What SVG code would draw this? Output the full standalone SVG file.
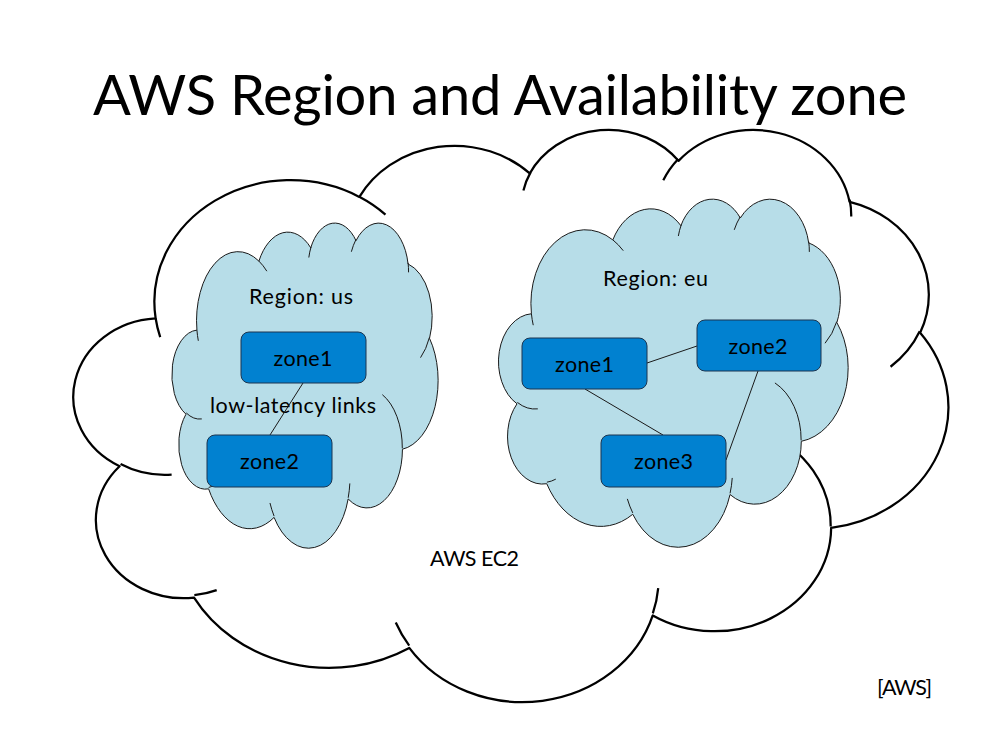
<svg xmlns="http://www.w3.org/2000/svg" xmlns:xlink="http://www.w3.org/1999/xlink" width="999" height="749" viewBox="0 0 999 749">
<style>
  text { font-family: "Lato", "Carlito", "Liberation Sans", sans-serif; fill: #000; }
  .title { font-size: 56px; }
  .lbl { font-size: 21.5px; }
  .mid { text-anchor: middle; }
  .big { fill: #ffffff; stroke: #000000; stroke-width: 2.25; }
  .reg { fill: #b7dde8; stroke: #1a1a1a; stroke-width: 1; }
  .zone { fill: #0181d0; stroke: #1c3550; stroke-width: 1; }
  .link { stroke: #1a1a1a; stroke-width: 1; fill: none; }
  .cl { vector-effect: non-scaling-stroke; stroke-linejoin: round; }
</style>
<defs>
  <g id="cloud">
    <path class="cl" d="M3900,14370 A6753,9190 0 0 1 14005,5202 A5333,7267 0 0 1 22456,3432 A4365,5945 0 0 1 29833,2481 A4857,6595 0 0 1 38318,5576 A5333,7273 0 0 1 41818,15460 A6775,9220 0 0 1 37404,30203 A5785,7867 0 0 1 28556,36813 A6752,9215 0 0 1 16480,39264 A7720,10543 0 0 1 5805,35470 A4360,5918 0 0 1 2113,25548 A4345,5945 0 0 1 3900,14370 Z"/>
    <path class="cl" fill="none" d="M4693,26177 A4345,5945 0 0 1 2160,25380 M6928,34899 A4360,5918 0 0 1 5820,35281 M16478,39090 A6752,9215 0 0 1 15810,37350 M28827,34751 A6752,9215 0 0 1 28560,36660 M34129,22954 A5785,7867 0 0 1 37381,30090 M41798,15354 A5333,7273 0 0 1 40350,18030 M38324,5426 A4857,6595 0 0 1 38400,6690 M29078,3952 A4857,6595 0 0 1 29820,2341 M22141,4720 A4365,5945 0 0 1 22500,3330 M14000,5192 A6753,9190 0 0 1 15300,6540 M4127,15789 A6753,9190 0 0 1 3900,14370"/>
  </g>
</defs>

<text id="title" class="title mid" x="500" y="115" textLength="814">AWS Region and Availability zone</text>

<g id="ec2">
  <use xlink:href="#cloud" href="#cloud" class="big" transform="translate(77 128) scale(0.020162 0.013241)"/>
  <text class="lbl" x="430" y="566" textLength="89">AWS EC2</text>
</g>

<g id="region-us">
  <use xlink:href="#cloud" href="#cloud" class="reg" transform="translate(173 222) scale(0.0061343 0.0075231)"/>
  <text class="lbl" x="249" y="304" textLength="104">Region: us</text>
  <text class="lbl" x="210" y="413" textLength="166">low-latency links</text>
</g>

<g id="region-eu">
  <use xlink:href="#cloud" href="#cloud" class="reg" transform="translate(500 198) scale(0.0080556 0.0080556)"/>
  <text class="lbl" x="603" y="286" textLength="105">Region: eu</text>
</g>

<g id="connectors">
  <line class="link" x1="303" y1="383" x2="270" y2="435"/>
  <line class="link" x1="647" y1="363" x2="697" y2="346"/>
  <line class="link" x1="585" y1="389" x2="663" y2="435"/>
  <line class="link" x1="758" y1="371" x2="726" y2="460"/>
</g>

<g id="us-zone1">
  <rect class="zone" x="241" y="332" width="125" height="51" rx="8"/>
  <text class="lbl mid" x="303" y="366" textLength="59">zone1</text>
</g>
<g id="us-zone2">
  <rect class="zone" x="207" y="435" width="125" height="52" rx="8"/>
  <text class="lbl mid" x="269.5" y="469" textLength="59">zone2</text>
</g>
<g id="eu-zone1">
  <rect class="zone" x="522" y="338" width="125" height="51" rx="8"/>
  <text class="lbl mid" x="584.5" y="372" textLength="59">zone1</text>
</g>
<g id="eu-zone2">
  <rect class="zone" x="697" y="320" width="124" height="51" rx="8"/>
  <text class="lbl mid" x="758" y="354" textLength="59">zone2</text>
</g>
<g id="eu-zone3">
  <rect class="zone" x="601" y="435" width="125" height="52" rx="8"/>
  <text class="lbl mid" x="663.5" y="469" textLength="59">zone3</text>
</g>

<text id="credit" class="lbl" x="877" y="695" textLength="55">[AWS]</text>
</svg>
